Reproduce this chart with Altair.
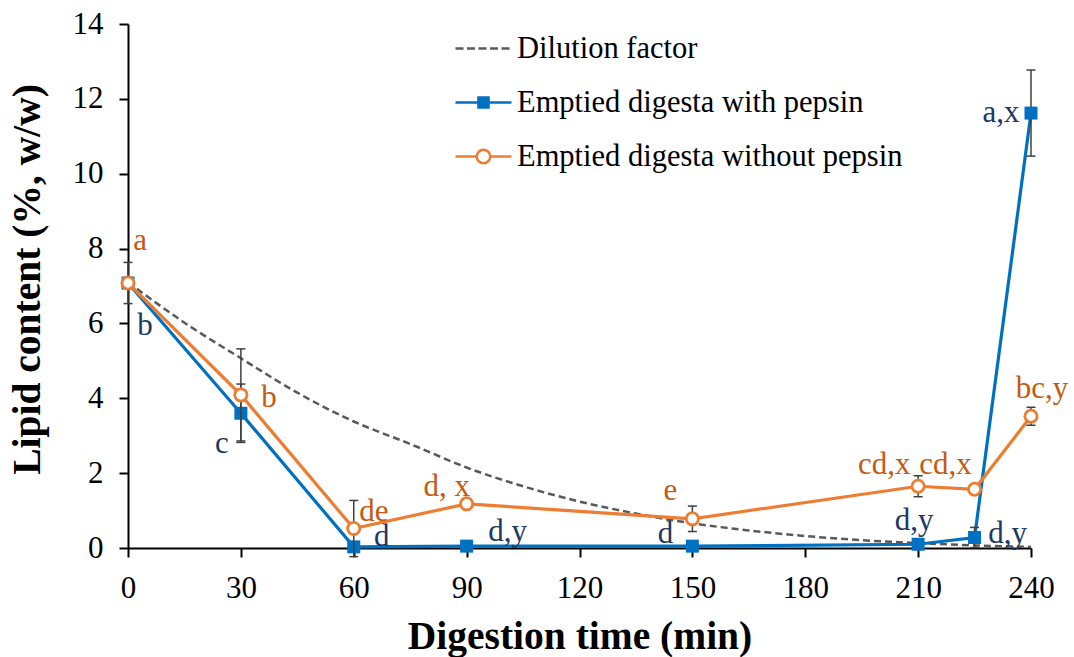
import altair as alt
import pandas as pd

# Sampling times (min)
times = [0, 30, 60, 90, 150, 210, 225, 240]

# Lipid content (%, w/w) of emptied digesta, mean and SD
with_pepsin = [7.08, 3.60, 0.03, 0.05, 0.05, 0.10, 0.28, 11.62]
with_pepsin_sd = [0, 0.78, 0, 0, 0, 0, 0.27, 1.15]
without_pepsin = [7.08, 4.09, 0.52, 1.18, 0.78, 1.65, 1.57, 3.52]
without_pepsin_sd = [0.55, 1.23, 0.75, 0, 0.34, 0.28, 0, 0.24]

# Significance letters
with_letters = ["b", "c", "d", "d,y", "d", "d,y", "d,y", "a,x"]
without_letters = ["a", "b", "de", "d, x", "e", "cd,x", "cd,x", "bc,y"]

# Dilution factor curve
dilution_time = [0, 15, 30, 45, 60, 75, 90, 105, 120, 135, 150, 165, 180, 195, 210, 225, 240]
dilution_factor = [7.10, 6.02, 5.07, 4.15, 3.38, 2.78, 2.15, 1.65, 1.24, 0.92,
                   0.66, 0.47, 0.32, 0.21, 0.13, 0.07, 0.03]

series_names = ["Dilution factor", "Emptied digesta with pepsin", "Emptied digesta without pepsin"]

# Label placement (pixel offsets from each marker)
with_dx = [17, -19, 28, 41, -27, -4, 33, -30]
with_dy = [52, 40, -1, -5, -3, -14, 5, 9]
without_dx = [12, 28, 20, -20, -22, -34, -29, 11]
without_dy = [-33, 12, -8, -8, -19, -12, -15, -18]

FONT = "'Liberation Serif', 'Times New Roman', serif"
BLUE = "#0070C0"
ORANGE = "#ED7D31"
BLUE_TXT = "#203864"
ORANGE_TXT = "#C55A11"
GREY = "#595959"
ERR = "#404040"

with_df = pd.DataFrame({"time": times, "value": with_pepsin, "sd": with_pepsin_sd,
                        "label": with_letters})
with_df["lo"] = with_df["value"] - with_df["sd"]
with_df["hi"] = with_df["value"] + with_df["sd"]
without_df = pd.DataFrame({"time": times, "value": without_pepsin, "sd": without_pepsin_sd,
                           "label": without_letters})
without_df["lo"] = without_df["value"] - without_df["sd"]
without_df["hi"] = without_df["value"] + without_df["sd"]
dil_df = pd.DataFrame({"time": dilution_time, "value": dilution_factor})

x_scale = alt.Scale(domain=[0, 240], nice=False, zero=False)
y_scale = alt.Scale(domain=[0, 14], nice=False)

common_axis = dict(
    grid=False, tickSize=9, tickWidth=2, tickColor="black",
    domainColor="black", domainWidth=2,
    labelFont=FONT, labelFontSize=31, labelColor="black",
    titleFont=FONT, titleFontSize=39.5, titleFontWeight="bold", titleColor="black",
    labelOverlap=False,
)
x_axis = alt.Axis(values=[0, 30, 60, 90, 120, 150, 180, 210, 240], labelPadding=16,
                  labelFlush=False, titleBaseline="alphabetic", titleY=100,
                  title="Digestion time (min)", **common_axis)
y_axis = alt.Axis(values=list(range(0, 15, 2)), labelPadding=16,
                  titleAngle=270, titleBaseline="alphabetic", titleX=-89, titleY=255,
                  title="Lipid content (%, w/w)", **common_axis)


def x_enc(field="time"):
    return alt.X(f"{field}:Q", scale=x_scale, axis=x_axis, title="Digestion time (min)")


def y_enc(field="value"):
    return alt.Y(f"{field}:Q", scale=y_scale, axis=y_axis, title="Lipid content (%, w/w)")


dilution = alt.Chart(dil_df).mark_line(
    color=GREY, strokeWidth=2.5, strokeDash=[7, 4], interpolate="monotone"
).encode(x=x_enc(), y=y_enc())

blue_line = alt.Chart(with_df).mark_line(color=BLUE, strokeWidth=3.2).encode(x=x_enc(), y=y_enc())
orange_line = alt.Chart(without_df).mark_line(color=ORANGE, strokeWidth=3.2).encode(x=x_enc(), y=y_enc())


def error_bars(df):
    base = alt.Chart(df).transform_filter("datum.sd > 0")
    stem = base.mark_rule(color=ERR, strokeWidth=1.5).encode(
        x=x_enc(), y=y_enc("lo"), y2=alt.Y2("hi:Q"))
    cap_lo = base.mark_tick(orient="horizontal", color=ERR, size=9, thickness=1.5, opacity=1).encode(
        x=x_enc(), y=y_enc("lo"))
    cap_hi = base.mark_tick(orient="horizontal", color=ERR, size=9, thickness=1.5, opacity=1).encode(
        x=x_enc(), y=y_enc("hi"))
    return [stem, cap_lo, cap_hi]


blue_pts = alt.Chart(with_df).mark_point(
    shape="square", filled=True, size=169, color=BLUE, opacity=1
).encode(x=x_enc(), y=y_enc())
orange_pts = alt.Chart(without_df).mark_point(
    shape="circle", filled=True, fill="white", stroke=ORANGE, strokeWidth=2.8, size=150, opacity=1
).encode(x=x_enc(), y=y_enc())


def letter_layers(df, dxs, dys, color):
    layers = []
    for i in range(len(df)):
        layers.append(
            alt.Chart(df.iloc[[i]]).mark_text(
                font=FONT, fontSize=31, color=color, align="center",
                baseline="alphabetic", dx=dxs[i], dy=dys[i]
            ).encode(x=x_enc(), y=y_enc(), text="label:N")
        )
    return layers


# Legend symbols: line-only dashes, line with square, line with open circle
dash_path = ("M-1,0H-0.714M-0.589,0H-0.303M-0.178,0H0.108"
             "M0.233,0H0.519M0.644,0H0.93")
square_path = "M-1,0H1M-0.18,-0.18H0.18V0.18H-0.18Z"
circle_path = ("M-1,0H-0.24M0.24,0H1"
               "M-0.24,0A0.24,0.24,0,1,0,0.24,0A0.24,0.24,0,1,0,-0.24,0Z")

legend = alt.Legend(
    title=None, orient="none", legendX=326, legendY=-5, padding=0,
    labelFont=FONT, labelFontSize=30.5, labelColor="black", labelOffset=4,
    symbolSize=3136, symbolStrokeWidth=2.5, rowPadding=9, labelLimit=600,
)
legend_layer = alt.Chart(pd.DataFrame({"series": series_names})).mark_point(
    filled=True, opacity=1
).encode(
    shape=alt.Shape("series:N", scale=alt.Scale(domain=series_names,
                    range=[dash_path, square_path, circle_path]), legend=legend),
    fill=alt.Fill("series:N", scale=alt.Scale(domain=series_names,
                  range=["transparent", BLUE, "white"]), legend=legend),
    stroke=alt.Stroke("series:N", scale=alt.Scale(domain=series_names,
                      range=[GREY, BLUE, ORANGE]), legend=legend),
).transform_filter("false")

layers = [dilution, blue_line, *error_bars(with_df), blue_pts,
          orange_line, *error_bars(without_df), orange_pts]
layers += letter_layers(with_df, with_dx, with_dy, BLUE_TXT)
layers += letter_layers(without_df, without_dx, without_dy, ORANGE_TXT)
layers.append(legend_layer)

chart = alt.layer(*layers).properties(
    width=903, height=524,
    padding={"left": 128, "top": 24, "right": 43, "bottom": 109},
    autosize=alt.AutoSizeParams(type="none"),
    background="white",
).configure_view(stroke=None)

chart.save("out.html", embed_options={"renderer": "svg", "actions": False})
